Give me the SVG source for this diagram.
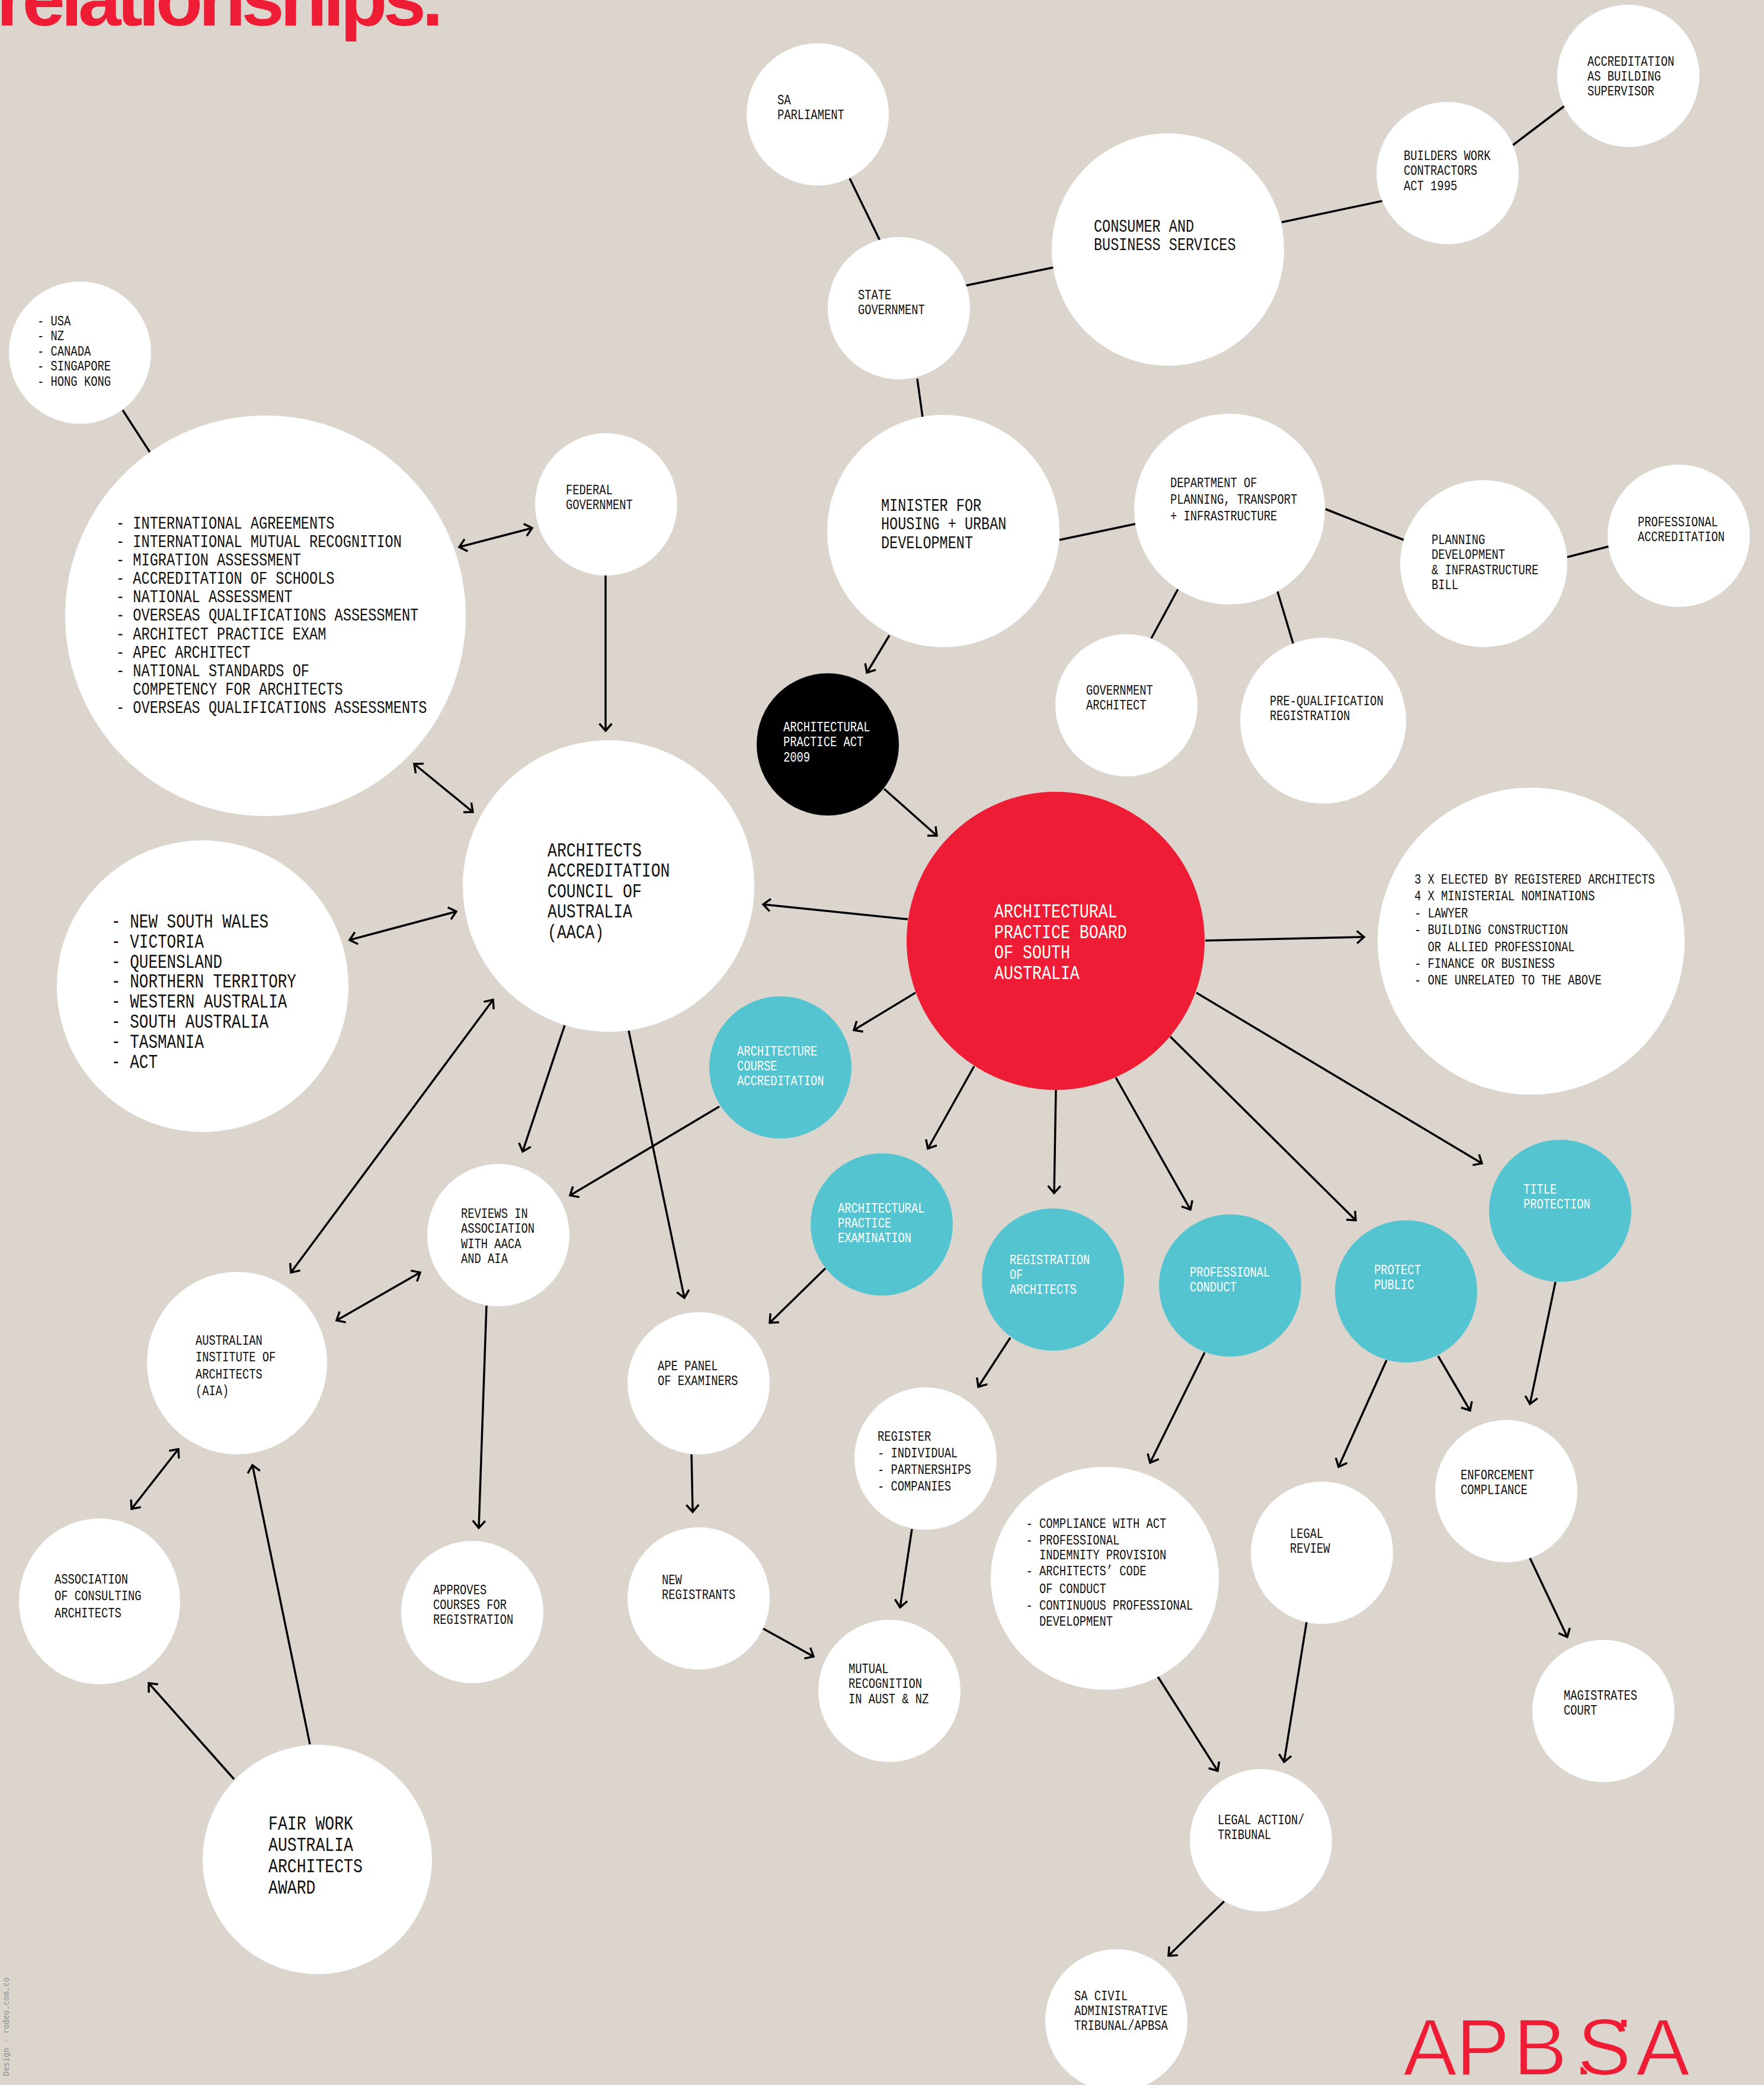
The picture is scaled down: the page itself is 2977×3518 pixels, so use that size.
<svg xmlns="http://www.w3.org/2000/svg" width="2977" height="3518" viewBox="0 0 2977 3518">
<style>
text{font-family:"Liberation Mono",monospace;fill:#111;white-space:pre}
.s{font-size:23.5px}.m{font-size:29px}.l{font-size:32.5px}
.w{fill:#fff}
.n{fill:#fff}.t{fill:#54c5d0}
line{stroke:#000;stroke-width:3.5;fill:none}
.a{marker-end:url(#h)}.b{marker-start:url(#h);marker-end:url(#h)}
</style>
<defs><marker id="h" markerUnits="userSpaceOnUse" viewBox="-20 -16 24 32" refX="0" refY="0" markerWidth="24" markerHeight="32" orient="auto-start-reverse"><path d="M-12,-10.500 L0,0 L-12,10.500" fill="none" stroke="#000" stroke-width="3.5"/></marker></defs>
<rect width="2977" height="3518" fill="#dbd5ce"/>
<text x="-6" y="43" style="font-family:'Liberation Sans',Arial,sans-serif;font-weight:700;font-size:130px;letter-spacing:-7px;fill:#ee1c34">relationships.</text>
<g id="connectors">
<line x1="1434" y1="301" x2="1485" y2="406"/><line x1="1629" y1="482" x2="1779" y2="451"/><line x1="2163" y1="375" x2="2333" y2="339"/><line x1="2553" y1="245" x2="2640" y2="179"/><line x1="1548" y1="639" x2="1557" y2="704"/><line x1="1788" y1="911" x2="1916" y2="884"/><line x1="2237" y1="859" x2="2369" y2="911"/><line x1="2645" y1="940" x2="2715" y2="922"/><line x1="1988" y1="994" x2="1943" y2="1077"/><line x1="2156" y1="998" x2="2183" y2="1088"/><line x1="207" y1="692" x2="253" y2="763"/>
<line class="a" x1="1501" y1="1072" x2="1463" y2="1135"/><line class="a" x1="1492" y1="1331" x2="1581" y2="1410"/><line class="a" x1="1532" y1="1551" x2="1288" y2="1526"/><line class="a" x1="2034" y1="1587" x2="2302" y2="1581"/><line class="a" x1="1545" y1="1675" x2="1441" y2="1738"/><line class="a" x1="1644" y1="1799" x2="1566" y2="1938"/><line class="a" x1="1782" y1="1838" x2="1779" y2="2013"/><line class="a" x1="1883" y1="1818" x2="2009" y2="2041"/><line class="a" x1="1975" y1="1749" x2="2288" y2="2059"/><line class="a" x1="2019" y1="1675" x2="2501" y2="1963"/>
<line class="a" x1="1022" y1="971" x2="1022" y2="1233"/><line class="b" x1="775" y1="923" x2="898" y2="891"/><line class="b" x1="699" y1="1289" x2="798" y2="1370"/><line class="b" x1="590" y1="1586" x2="770" y2="1538"/><line class="a" x1="953" y1="1730" x2="882" y2="1943"/><line class="a" x1="1061" y1="1739" x2="1155" y2="2190"/><line class="b" x1="491" y1="2147" x2="832" y2="1687"/><line class="a" x1="1214" y1="1867" x2="962" y2="2017"/><line class="b" x1="568" y1="2228" x2="709" y2="2147"/><line class="a" x1="821" y1="2203" x2="808" y2="2578"/><line class="a" x1="1393" y1="2140" x2="1299" y2="2232"/><line class="a" x1="1167" y1="2454" x2="1169" y2="2551"/><line class="a" x1="1705" y1="2257" x2="1651" y2="2340"/><line class="a" x1="1539" y1="2580" x2="1519" y2="2712"/><line class="a" x1="1288" y1="2748" x2="1373" y2="2795"/><line class="a" x1="2033" y1="2282" x2="1941" y2="2468"/><line class="a" x1="2340" y1="2295" x2="2259" y2="2475"/><line class="a" x1="2427" y1="2288" x2="2481" y2="2380"/><line class="a" x1="2625" y1="2163" x2="2582" y2="2369"/><line class="a" x1="2582" y1="2629" x2="2645" y2="2762"/><line class="a" x1="2205" y1="2737" x2="2167" y2="2973"/><line class="a" x1="1954" y1="2829" x2="2055" y2="2988"/><line class="a" x1="2066" y1="3208" x2="1972" y2="3300"/><line class="b" x1="301" y1="2445" x2="222" y2="2546"/><line class="a" x1="395" y1="3002" x2="251" y2="2840"/><line class="a" x1="523" y1="2943" x2="426" y2="2472"/>
</g>
<g id="sa-parliament"><circle class="n" cx="1380" cy="193" r="120"/><text class="s" transform="translate(1312 176) scale(.8 1)"><tspan x="0">SA</tspan><tspan x="0" dy="25">PARLIAMENT</tspan></text></g>
<g id="accreditation-building"><circle class="n" cx="2748" cy="128" r="120"/><text class="s" transform="translate(2679 111) scale(.8 1)"><tspan x="0">ACCREDITATION</tspan><tspan x="0" dy="25">AS BUILDING</tspan><tspan x="0" dy="25">SUPERVISOR</tspan></text></g>
<g id="builders"><circle class="n" cx="2443" cy="292" r="120"/><text class="s" transform="translate(2369 270) scale(.8 1)"><tspan x="0">BUILDERS WORK</tspan><tspan x="0" dy="25.500">CONTRACTORS</tspan><tspan x="0" dy="25.500">ACT 1995</tspan></text></g>
<g id="consumer"><circle class="n" cx="1971" cy="421" r="196"/><text class="m" transform="translate(1846 391) scale(.81 1)"><tspan x="0">CONSUMER AND</tspan><tspan x="0" dy="31">BUSINESS SERVICES</tspan></text></g>
<g id="state-government"><circle class="n" cx="1517" cy="520" r="120"/><text class="s" transform="translate(1448 505) scale(.8 1)"><tspan x="0">STATE</tspan><tspan x="0" dy="25">GOVERNMENT</tspan></text></g>
<g id="countries"><circle class="n" cx="135" cy="595" r="120"/><text class="s" transform="translate(63 549) scale(.8 1)"><tspan x="0">- USA</tspan><tspan x="0" dy="25.500">- NZ</tspan><tspan x="0" dy="25.500">- CANADA</tspan><tspan x="0" dy="25.500">- SINGAPORE</tspan><tspan x="0" dy="25.500">- HONG KONG</tspan></text></g>
<g id="international"><circle class="n" cx="448" cy="1039" r="338"/><text class="m" transform="translate(196 892) scale(.815 1)"><tspan x="0">- INTERNATIONAL AGREEMENTS</tspan><tspan x="0" dy="31.100">- INTERNATIONAL MUTUAL RECOGNITION</tspan><tspan x="0" dy="31.100">- MIGRATION ASSESSMENT</tspan><tspan x="0" dy="31.100">- ACCREDITATION OF SCHOOLS</tspan><tspan x="0" dy="31.100">- NATIONAL ASSESSMENT</tspan><tspan x="0" dy="31.100">- OVERSEAS QUALIFICATIONS ASSESSMENT</tspan><tspan x="0" dy="31.100">- ARCHITECT PRACTICE EXAM</tspan><tspan x="0" dy="31.100">- APEC ARCHITECT</tspan><tspan x="0" dy="31.100">- NATIONAL STANDARDS OF</tspan><tspan x="0" dy="31.100">  COMPETENCY FOR ARCHITECTS</tspan><tspan x="0" dy="31.100">- OVERSEAS QUALIFICATIONS ASSESSMENTS</tspan></text></g>
<g id="federal"><circle class="n" cx="1023" cy="851" r="120"/><text class="s" transform="translate(955 834) scale(.8 1)"><tspan x="0">FEDERAL</tspan><tspan x="0" dy="25">GOVERNMENT</tspan></text></g>
<g id="minister"><circle class="n" cx="1592" cy="896" r="196"/><text class="m" transform="translate(1487 862) scale(.81 1)"><tspan x="0">MINISTER FOR</tspan><tspan x="0" dy="31.500">HOUSING + URBAN</tspan><tspan x="0" dy="31.500">DEVELOPMENT</tspan></text></g>
<g id="department"><circle class="n" cx="2075" cy="859" r="161"/><text class="s" transform="translate(1975 822) scale(.8 1)"><tspan x="0">DEPARTMENT OF</tspan><tspan x="0" dy="28">PLANNING, TRANSPORT</tspan><tspan x="0" dy="28">+ INFRASTRUCTURE</tspan></text></g>
<g id="planning-bill"><circle class="n" cx="2504" cy="951" r="141"/><text class="s" transform="translate(2416 918) scale(.8 1)"><tspan x="0">PLANNING</tspan><tspan x="0" dy="25.500">DEVELOPMENT</tspan><tspan x="0" dy="25.500">&amp; INFRASTRUCTURE</tspan><tspan x="0" dy="25.500">BILL</tspan></text></g>
<g id="professional-accreditation"><circle class="n" cx="2833" cy="904" r="120"/><text class="s" transform="translate(2764 888) scale(.8 1)"><tspan x="0">PROFESSIONAL</tspan><tspan x="0" dy="25">ACCREDITATION</tspan></text></g>
<g id="government-architect"><circle class="n" cx="1901" cy="1190" r="120"/><text class="s" transform="translate(1833 1172) scale(.8 1)"><tspan x="0">GOVERNMENT</tspan><tspan x="0" dy="25">ARCHITECT</tspan></text></g>
<g id="pre-qualification"><circle class="n" cx="2233" cy="1216" r="140"/><text class="s" transform="translate(2143 1190) scale(.8 1)"><tspan x="0">PRE-QUALIFICATION</tspan><tspan x="0" dy="25">REGISTRATION</tspan></text></g>
<g id="practice-act"><circle fill="#000" cx="1397" cy="1256" r="120"/><text class="s w" transform="translate(1322 1234) scale(.8 1)"><tspan x="0">ARCHITECTURAL</tspan><tspan x="0" dy="25.500">PRACTICE ACT</tspan><tspan x="0" dy="25.500">2009</tspan></text></g>
<g id="board"><circle fill="#ee1c34" cx="1781.500" cy="1587.500" r="251.500"/><text class="l w" transform="translate(1678 1548) scale(.82 1)"><tspan x="0">ARCHITECTURAL</tspan><tspan x="0" dy="34.700">PRACTICE BOARD</tspan><tspan x="0" dy="34.700">OF SOUTH</tspan><tspan x="0" dy="34.700">AUSTRALIA</tspan></text></g>
<g id="composition"><circle class="n" cx="2584" cy="1588" r="259"/><text class="s" transform="translate(2387 1491) scale(.8 1)"><tspan x="0">3 X ELECTED BY REGISTERED ARCHITECTS</tspan><tspan x="0" dy="28.400">4 X MINISTERIAL NOMINATIONS</tspan><tspan x="0" dy="28.400">- LAWYER</tspan><tspan x="0" dy="28.400">- BUILDING CONSTRUCTION</tspan><tspan x="0" dy="28.400">  OR ALLIED PROFESSIONAL</tspan><tspan x="0" dy="28.400">- FINANCE OR BUSINESS</tspan><tspan x="0" dy="28.400">- ONE UNRELATED TO THE ABOVE</tspan></text></g>
<g id="aaca"><circle class="n" cx="1027" cy="1495" r="246"/><text class="l" transform="translate(924 1445) scale(.815 1)"><tspan x="0">ARCHITECTS</tspan><tspan x="0" dy="34.500">ACCREDITATION</tspan><tspan x="0" dy="34.500">COUNCIL OF</tspan><tspan x="0" dy="34.500">AUSTRALIA</tspan><tspan x="0" dy="34.500">(AACA)</tspan></text></g>
<g id="states"><circle class="n" cx="342" cy="1664" r="246"/><text class="l" transform="translate(188 1565) scale(.8 1)"><tspan x="0">- NEW SOUTH WALES</tspan><tspan x="0" dy="33.800">- VICTORIA</tspan><tspan x="0" dy="33.800">- QUEENSLAND</tspan><tspan x="0" dy="33.800">- NORTHERN TERRITORY</tspan><tspan x="0" dy="33.800">- WESTERN AUSTRALIA</tspan><tspan x="0" dy="33.800">- SOUTH AUSTRALIA</tspan><tspan x="0" dy="33.800">- TASMANIA</tspan><tspan x="0" dy="33.800">- ACT</tspan></text></g>
<g id="course-accreditation"><circle class="t" cx="1317" cy="1801" r="120"/><text class="s w" transform="translate(1244 1781) scale(.8 1)"><tspan x="0">ARCHITECTURE</tspan><tspan x="0" dy="25">COURSE</tspan><tspan x="0" dy="25">ACCREDITATION</tspan></text></g>
<g id="practice-examination"><circle class="t" cx="1488" cy="2066" r="120"/><text class="s w" transform="translate(1414 2046) scale(.8 1)"><tspan x="0">ARCHITECTURAL</tspan><tspan x="0" dy="25">PRACTICE</tspan><tspan x="0" dy="25">EXAMINATION</tspan></text></g>
<g id="registration"><circle class="t" cx="1777" cy="2159" r="120"/><text class="s w" transform="translate(1704 2133) scale(.8 1)"><tspan x="0">REGISTRATION</tspan><tspan x="0" dy="25">OF</tspan><tspan x="0" dy="25">ARCHITECTS</tspan></text></g>
<g id="conduct"><circle class="t" cx="2076" cy="2169" r="120"/><text class="s w" transform="translate(2008 2154) scale(.8 1)"><tspan x="0">PROFESSIONAL</tspan><tspan x="0" dy="25">CONDUCT</tspan></text></g>
<g id="protect"><circle class="t" cx="2373" cy="2179" r="120"/><text class="s w" transform="translate(2319 2150) scale(.8 1)"><tspan x="0">PROTECT</tspan><tspan x="0" dy="25">PUBLIC</tspan></text></g>
<g id="title-protection"><circle class="t" cx="2633" cy="2043" r="120"/><text class="s w" transform="translate(2571 2014) scale(.8 1)"><tspan x="0">TITLE</tspan><tspan x="0" dy="25">PROTECTION</tspan></text></g>
<g id="reviews"><circle class="n" cx="841" cy="2084" r="120"/><text class="s" transform="translate(778 2055) scale(.8 1)"><tspan x="0">REVIEWS IN</tspan><tspan x="0" dy="25.300">ASSOCIATION</tspan><tspan x="0" dy="25.300">WITH AACA</tspan><tspan x="0" dy="25.300">AND AIA</tspan></text></g>
<g id="aia"><ellipse class="n" cx="400" cy="2300" rx="152" ry="154"/><text class="s" transform="translate(330 2269) scale(.8 1)"><tspan x="0">AUSTRALIAN</tspan><tspan x="0" dy="28.300">INSTITUTE OF</tspan><tspan x="0" dy="28.300">ARCHITECTS</tspan><tspan x="0" dy="28.300">(AIA)</tspan></text></g>
<g id="ape-panel"><circle class="n" cx="1179" cy="2334" r="120"/><text class="s" transform="translate(1110 2312) scale(.8 1)"><tspan x="0">APE PANEL</tspan><tspan x="0" dy="25">OF EXAMINERS</tspan></text></g>
<g id="register"><circle class="n" cx="1562" cy="2461" r="120"/><text class="s" transform="translate(1481 2431) scale(.8 1)"><tspan x="0">REGISTER</tspan><tspan x="0" dy="28">- INDIVIDUAL</tspan><tspan x="0" dy="28">- PARTNERSHIPS</tspan><tspan x="0" dy="28">- COMPANIES</tspan></text></g>
<g id="compliance"><ellipse class="n" cx="1864.500" cy="2663" rx="192.500" ry="188"/><text class="s" transform="translate(1731.500 2578) scale(.8 1)"><tspan x="0">- COMPLIANCE WITH ACT</tspan><tspan x="0" dy="28">- PROFESSIONAL</tspan><tspan x="0" dy="25">  INDEMNITY PROVISION</tspan><tspan x="0" dy="27">- ARCHITECTS’ CODE</tspan><tspan x="0" dy="30">  OF CONDUCT</tspan><tspan x="0" dy="28">- CONTINUOUS PROFESSIONAL</tspan><tspan x="0" dy="27">  DEVELOPMENT</tspan></text></g>
<g id="enforcement"><circle class="n" cx="2542" cy="2516" r="120"/><text class="s" transform="translate(2465 2496) scale(.8 1)"><tspan x="0">ENFORCEMENT</tspan><tspan x="0" dy="25">COMPLIANCE</tspan></text></g>
<g id="legal-review"><circle class="n" cx="2231" cy="2620" r="120"/><text class="s" transform="translate(2177 2595) scale(.8 1)"><tspan x="0">LEGAL</tspan><tspan x="0" dy="25">REVIEW</tspan></text></g>
<g id="magistrates"><circle class="n" cx="2706" cy="2887" r="120"/><text class="s" transform="translate(2639 2868) scale(.8 1)"><tspan x="0">MAGISTRATES</tspan><tspan x="0" dy="25">COURT</tspan></text></g>
<g id="consulting"><ellipse class="n" cx="168" cy="2702" rx="136" ry="140"/><text class="s" transform="translate(92 2672) scale(.8 1)"><tspan x="0">ASSOCIATION</tspan><tspan x="0" dy="28.400">OF CONSULTING</tspan><tspan x="0" dy="28.400">ARCHITECTS</tspan></text></g>
<g id="approves"><circle class="n" cx="797" cy="2720" r="120"/><text class="s" transform="translate(731 2690) scale(.8 1)"><tspan x="0">APPROVES</tspan><tspan x="0" dy="25">COURSES FOR</tspan><tspan x="0" dy="25">REGISTRATION</tspan></text></g>
<g id="new-registrants"><circle class="n" cx="1179" cy="2697" r="120"/><text class="s" transform="translate(1117 2673) scale(.8 1)"><tspan x="0">NEW</tspan><tspan x="0" dy="25">REGISTRANTS</tspan></text></g>
<g id="mutual"><circle class="n" cx="1501" cy="2853" r="120"/><text class="s" transform="translate(1432 2823) scale(.8 1)"><tspan x="0">MUTUAL</tspan><tspan x="0" dy="25.500">RECOGNITION</tspan><tspan x="0" dy="25.500">IN AUST &amp; NZ</tspan></text></g>
<g id="fair-work"><circle class="n" cx="535.500" cy="3137.500" r="193.500"/><text class="l" transform="translate(453 3087) scale(.815 1)"><tspan x="0">FAIR WORK</tspan><tspan x="0" dy="36">AUSTRALIA</tspan><tspan x="0" dy="36">ARCHITECTS</tspan><tspan x="0" dy="36">AWARD</tspan></text></g>
<g id="legal-action"><circle class="n" cx="2128" cy="3105" r="120"/><text class="s" transform="translate(2055 3078) scale(.8 1)"><tspan x="0">LEGAL ACTION/</tspan><tspan x="0" dy="25">TRIBUNAL</tspan></text></g>
<g id="sa-civil"><circle class="n" cx="1884" cy="3409" r="120"/><text class="s" transform="translate(1813 3375) scale(.8 1)"><tspan x="0">SA CIVIL</tspan><tspan x="0" dy="25">ADMINISTRATIVE</tspan><tspan x="0" dy="25">TRIBUNAL/APBSA</tspan></text></g>
<text x="2368 2457 2554 2654 2662 2761" y="3501" style="font-family:'Liberation Sans',Arial,sans-serif;font-size:136px;fill:#ee1c34;stroke:#dbd5ce;stroke-width:2">APB.SA</text>
<rect x="2736" y="3408" width="9" height="12" fill="#ee1c34"/>
<text transform="translate(15 3503) rotate(-90)" style="font-family:'DejaVu Sans Mono',monospace;font-size:13.200px;fill:#8f8f8f">Design - rodeo.com.co</text>
</svg>
